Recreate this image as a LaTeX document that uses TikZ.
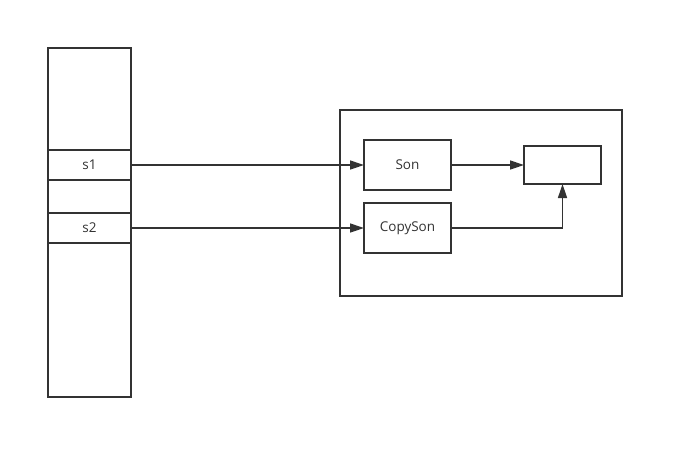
\documentclass[tikz,border=0pt]{standalone}
\usepackage{fontspec}
\setmainfont{Open Sans}
\usetikzlibrary{arrows.meta}
\definecolor{linegray}{HTML}{333333}

\begin{document}
\begin{tikzpicture}[x=1pt, y=-1pt, >={Triangle[length=14pt,width=9pt]},
    box/.style={draw=linegray, line width=1.8pt, inner sep=0pt, outer sep=0pt,
                font=\fontsize{13.5}{15}\selectfont, text=linegray},
    link/.style={->, draw=linegray, line width=1.4pt}]

    \useasboundingbox (0,0) rectangle (684,459);

    % Stack
    \node[box, minimum width=83pt, minimum height=349pt] (stack) at (89.5,222.5) {};
    \node[box, minimum width=83pt, minimum height=30pt] (s1) at (89.5,165) {s1};
    \node[box, minimum width=83pt, minimum height=30pt] (s2) at (89.5,228) {s2};

    % Heap
    \node[box, minimum width=282pt, minimum height=186pt] (heap) at (481,203) {};
    \node[box, minimum width=87pt, minimum height=50pt] (son) at (407.5,165) {Son};
    \node[box, minimum width=87pt, minimum height=50pt] (copyson) at (407.5,228) {CopySon};
    \node[box, minimum width=77pt, minimum height=38pt] (obj) at (562.5,165) {};

    % References
    \draw[link] (s1.east) -- (son.west);
    \draw[link] (s2.east) -- (copyson.west);
    \draw[link] (son.east) -- (obj.west);
    \draw[link] (copyson.east) -| (obj.south);

\end{tikzpicture}
\end{document}
